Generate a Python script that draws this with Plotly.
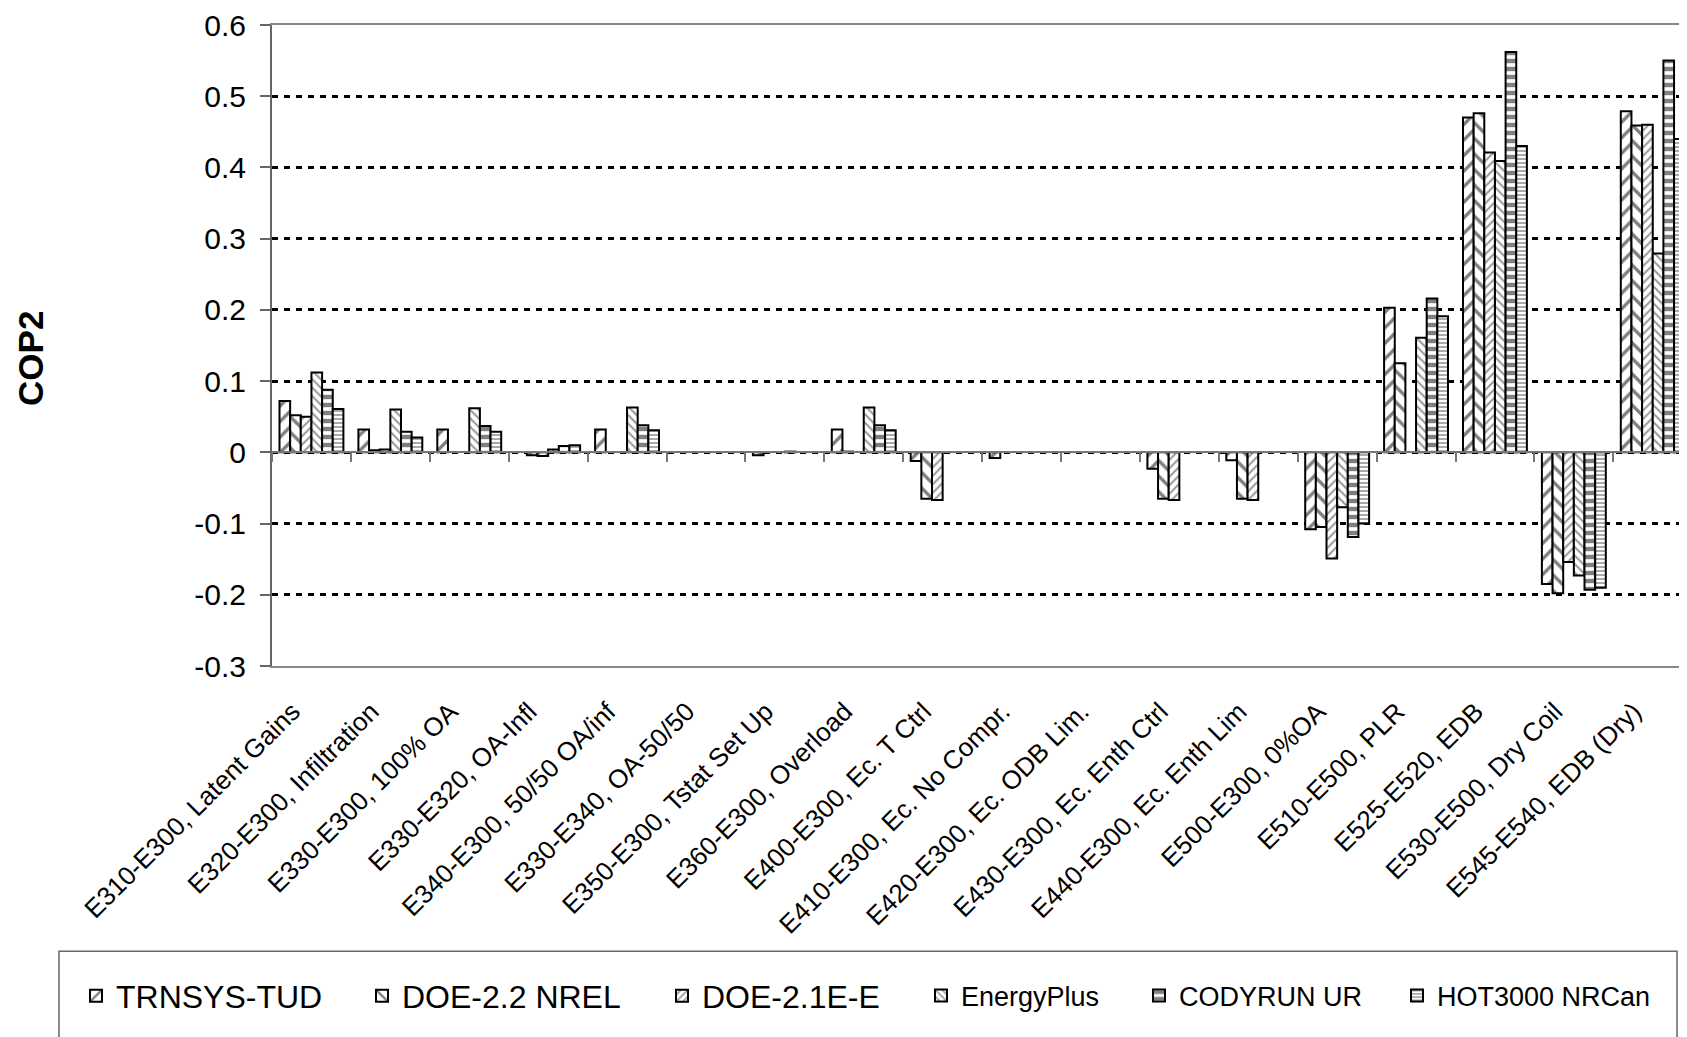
import plotly.graph_objects as go

categories = [
    "E310-E300, Latent Gains", "E320-E300, Infiltration", "E330-E300, 100% OA",
    "E330-E320, OA-Infl", "E340-E300, 50/50 OA/inf", "E330-E340, OA-50/50",
    "E350-E300, Tstat Set Up", "E360-E300, Overload", "E400-E300, Ec. T Ctrl",
    "E410-E300, Ec. No Compr.", "E420-E300, Ec. ODB Lim.", "E430-E300, Ec. Enth Ctrl",
    "E440-E300, Ec. Enth Lim", "E500-E300, 0%OA", "E510-E500, PLR",
    "E525-E520, EDB", "E530-E500, Dry Coil", "E545-E540, EDB (Dry)",
]

trnsys_tud = [0.072, 0.032, 0.032, None, 0.032, None, -0.004, 0.032, -0.012,
              -0.008, None, -0.023, -0.011, -0.108, 0.203, 0.470, -0.185, 0.479]
doe22_nrel = [0.052, 0.003, None, -0.004, None, None, None, 0.001, -0.065,
              None, None, -0.065, -0.065, -0.105, 0.125, 0.476, -0.198, 0.459]
doe21e_e = [0.050, 0.004, None, -0.005, None, None, None, None, -0.067,
            None, None, -0.067, -0.067, -0.149, None, 0.421, -0.154, 0.460]
energyplus = [0.112, 0.060, 0.062, 0.004, 0.063, None, 0.001, 0.063, None,
              None, None, None, None, -0.077, 0.161, 0.409, -0.173, 0.279]
codyrun_ur = [0.088, 0.029, 0.037, 0.009, 0.038, None, None, 0.038, None,
              None, None, None, None, -0.119, 0.216, 0.562, -0.193, 0.550]
hot3000_nrcan = [0.061, 0.021, 0.029, 0.010, 0.031, None, None, 0.031, None,
                 None, None, None, None, -0.100, 0.191, 0.430, -0.190, 0.440]

y_ticks = [-0.3, -0.2, -0.1, 0, 0.1, 0.2, 0.3, 0.4, 0.5, 0.6]

FONT = "Liberation Sans, Arial, sans-serif"
OFF = 8  # page body margin
W, H = 1687, 1037
ML = 272 - OFF
MT = 21 - OFF
PLOT_BOTTOM = 666 - OFF
MB = H - PLOT_BOTTOM
PW = W - ML
PH = H - MT - MB


def px_x(page_x):
    return (page_x - OFF - ML) / PW


def px_y(page_y):
    return (PLOT_BOTTOM - (page_y - OFF)) / PH


series = [
    ("TRNSYS-TUD", trnsys_tud, dict(shape="/", size=11, solidity=0.3, fgcolor="black"), 32, 117),
    ("DOE-2.2 NREL", doe22_nrel, dict(shape="\\", size=11, solidity=0.3, fgcolor="black"), 32, 403),
    ("DOE-2.1E-E", doe21e_e, dict(shape="/", size=6, solidity=0.35, fgcolor="#333"), 32, 703),
    ("EnergyPlus", energyplus, dict(shape="\\", size=6, solidity=0.35, fgcolor="#333"), 27, 962),
    ("CODYRUN UR", codyrun_ur, dict(shape="-", size=8, solidity=0.55, fgcolor="black"), 27, 1180),
    ("HOT3000 NRCan", hot3000_nrcan, dict(shape="-", size=4, solidity=0.5, fgcolor="#555"), 27, 1438),
]

fig = go.Figure()
legends = {}
for i, (name, vals, pat, fsize, text_x) in enumerate(series):
    key = "legend" if i == 0 else f"legend{i + 1}"
    fig.add_trace(go.Bar(
        x=categories, y=vals, name=name, legend=key,
        marker=dict(color="white", pattern=dict(bgcolor="white", **pat),
                    line=dict(color="black", width=2)),
    ))
    legends[key] = dict(
        x=px_x(text_x - 41), y=px_y(998),
        xanchor="left", yanchor="middle", orientation="h",
        bgcolor="rgba(0,0,0,0)", font=dict(family=FONT, size=fsize, color="black"),
    )

# invisible trace so the zero-crossing axis with category ticks gets drawn
fig.add_trace(go.Scatter(x=categories, y=[0] * len(categories), xaxis="x2",
                         mode="markers", marker=dict(opacity=0), showlegend=False,
                         hoverinfo="skip"))

x_range = [-0.5, -0.5 + PW / 78.9]

fig.update_layout(
    width=W, height=H,
    margin=dict(l=ML, r=0, t=MT, b=MB),
    paper_bgcolor="white", plot_bgcolor="white",
    barmode="group", bargap=0.19, bargroupgap=0,
    font=dict(family=FONT, color="black"),
    xaxis=dict(
        range=x_range, categoryorder="array", categoryarray=categories,
        showline=True, mirror=True, linecolor="#888", linewidth=2,
        ticks="", tickangle=-45, tickfont=dict(size=26, family=FONT),
        ticklabelstandoff=18, ticklabelshift=-19, showgrid=False,
    ),
    xaxis2=dict(
        overlaying="x", anchor="free", position=0.3 / 0.9,
        range=x_range, categoryorder="array", categoryarray=categories,
        showline=True, linecolor="#777", linewidth=2,
        ticks="outside", tickson="boundaries", ticklen=9, tickcolor="#777",
        tickwidth=2, showticklabels=False, showgrid=False,
    ),
    yaxis=dict(
        range=[-0.3, 0.6], tickvals=y_ticks,
        ticktext=[f"{v:g}" for v in y_ticks],
        tickfont=dict(size=30, family=FONT), ticklabelstandoff=8,
        ticklabeloverflow="allow",
        showline=True, linecolor="#666", linewidth=2,
        ticks="outside", ticklen=10, tickcolor="#666", tickwidth=2,
        showgrid=True, gridcolor="black", gridwidth=2.5, griddash="6px,6px",
        zeroline=False,
    ),
    annotations=[dict(
        text="<b>COP2</b>", textangle=-90, xref="paper", yref="paper",
        x=px_x(31), y=px_y(357), xanchor="center", yanchor="middle",
        showarrow=False, font=dict(family=FONT, size=35, color="black"),
    )],
    shapes=[dict(
        type="rect", xref="paper", yref="paper",
        x0=px_x(59), x1=px_x(1677), y0=px_y(1070), y1=px_y(953),
        line=dict(color="#666", width=1.5), fillcolor="rgba(0,0,0,0)",
    )],
    **legends,
)

fig.write_html("out.html")
